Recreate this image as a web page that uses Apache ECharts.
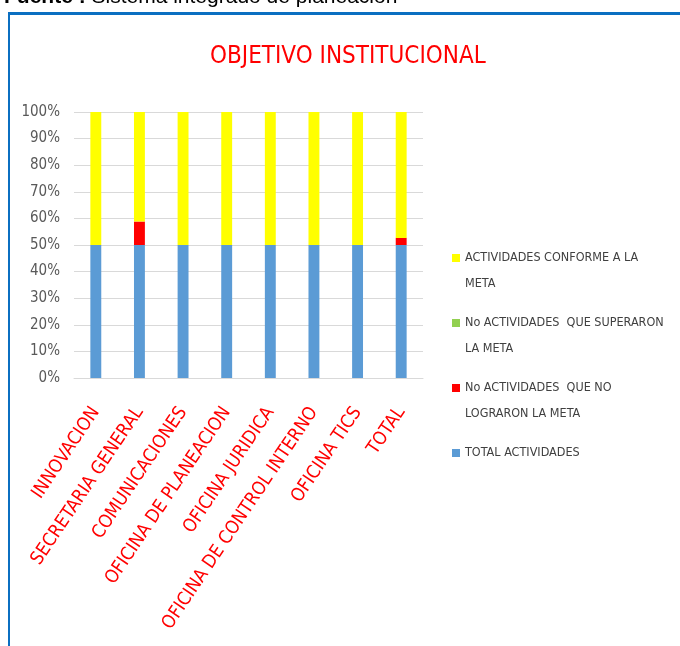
<!DOCTYPE html>
<html>
<head>
<meta charset="utf-8">
<script src="https://cdn.jsdelivr.net/npm/echarts@6/dist/echarts.min.js"></script>
<style>
html,body{margin:0;padding:0;background:#fff;}
#chart{width:680px;height:646px;}
</style>
</head>
<body>
<div id="chart"></div>
<script>
// ---- data (counts per office) ----
var categories = ['INNOVACION', 'SECRETARIA GENERAL', 'COMUNICACIONES', 'OFICINA DE PLANEACION',
  'OFICINA JURIDICA', 'OFICINA DE CONTROL INTERNO', 'OFICINA TICS', 'TOTAL'];
var totalActividades = [4, 17, 6, 8, 5, 6, 10, 56];
var noLograron = [0, 3, 0, 0, 0, 0, 0, 3];
var superaron = [0, 0, 0, 0, 0, 0, 0, 0];
var conforme = [4, 14, 6, 8, 5, 6, 10, 53];
var yTicks = [0, 10, 20, 30, 40, 50, 60, 70, 80, 90, 100];

var seriesNames = ['TOTAL ACTIVIDADES', 'No ACTIVIDADES  QUE NO LOGRARON LA META',
  'No ACTIVIDADES  QUE SUPERARON LA META', 'ACTIVIDADES CONFORME A LA META'];
var seriesColors = ['#5B9BD5', '#FF0000', '#92D050', '#FFFF00'];
var seriesValues = [totalActividades, noLograron, superaron, conforme];

// 100% stacked: convert counts to percentages of each category's sum
var sums = categories.map(function (c, i) {
  return seriesValues.reduce(function (a, arr) { return a + arr[i]; }, 0);
});
function pct(arr) { return arr.map(function (v, i) { return sums[i] ? v / sums[i] * 100 : 0; }); }

var NARROW = "'DejaVu Sans Condensed', 'Liberation Sans Narrow', sans-serif";
var legendLabels = {
  'ACTIVIDADES CONFORME A LA META': 'ACTIVIDADES CONFORME A LA\nMETA',
  'No ACTIVIDADES  QUE SUPERARON LA META': 'No ACTIVIDADES  QUE SUPERARON\nLA META',
  'No ACTIVIDADES  QUE NO LOGRARON LA META': 'No ACTIVIDADES  QUE NO\nLOGRARON LA META',
  'TOTAL ACTIVIDADES': 'TOTAL ACTIVIDADES\n '
};
var legendIcon = 'path://M0,0h8v8h-8z M0,34';

var chart = echarts.init(document.getElementById('chart'), null, {renderer: 'canvas'});
chart.setOption({
  animation: false,
  backgroundColor: '#ffffff',
  title: {
    text: 'OBJETIVO INSTITUCIONAL',
    left: 210, top: 45, padding: 0,
    textStyle: {color: '#FF0000', fontSize: 24, fontWeight: 'normal', fontFamily: NARROW}
  },
  graphic: [
    {type: 'text', left: 4, top: -13, silent: true,
      style: {
        text: '{b|Fuente :} Sistema integrado de planeación',
        fontSize: 21, fontFamily: 'Liberation Sans, Arial, sans-serif', fill: '#000',
        rich: {b: {fontWeight: 'bold', fontSize: 21, fontFamily: 'Liberation Sans, Arial, sans-serif'}}
      }},
    {type: 'line', silent: true, shape: {x1: 8, y1: 13.5, x2: 680, y2: 13.5},
      style: {stroke: '#0B6FC1', lineWidth: 3}},
    {type: 'line', silent: true, shape: {x1: 9, y1: 12, x2: 9, y2: 646},
      style: {stroke: '#0B6FC1', lineWidth: 2}}
  ],
  legend: {
    orient: 'vertical',
    left: 452, top: 245, padding: 0,
    itemGap: 13,
    itemWidth: 8, itemHeight: 34,
    icon: legendIcon,
    data: [seriesNames[3], seriesNames[2], seriesNames[1], seriesNames[0]],
    formatter: function (n) { return legendLabels[n]; },
    textStyle: {color: '#404040', fontSize: 12.5, lineHeight: 26, fontFamily: NARROW}
  },
  grid: {left: 74, right: 257, top: 112, bottom: 268, containLabel: false},
  xAxis: {
    type: 'category',
    data: categories,
    axisLine: {show: true, lineStyle: {color: '#D9D9D9', width: 1}},
    axisTick: {show: false},
    axisLabel: {
      rotate: 56, margin: 31, interval: 0,
      color: '#FF0000', fontSize: 18.5, fontFamily: NARROW
    }
  },
  yAxis: {
    type: 'value',
    min: yTicks[0], max: yTicks[yTicks.length - 1], interval: yTicks[1] - yTicks[0],
    axisLine: {show: false}, axisTick: {show: false},
    axisLabel: {formatter: '{value}%', color: '#595959', fontSize: 15, margin: 14, fontFamily: NARROW},
    splitLine: {lineStyle: {color: '#D9D9D9', width: 1}}
  },
  series: seriesNames.map(function (name, k) {
    return {
      name: name, type: 'bar', stack: 'all',
      barWidth: '25%',
      itemStyle: {color: seriesColors[k]},
      data: pct(seriesValues[k])
    };
  })
});
</script>
</body>
</html>
